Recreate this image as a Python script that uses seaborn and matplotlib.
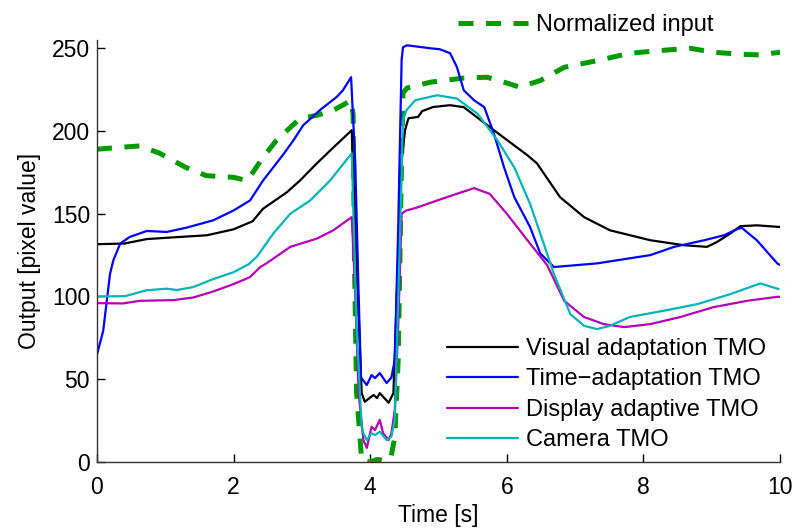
import matplotlib
matplotlib.use("Agg")
import matplotlib.pyplot as plt
import seaborn as sns

# Normalized input (green dashed)
t_input = [0, 0.3, 0.63, 0.92, 1.3, 1.6, 2.0, 2.2, 2.43, 2.63, 2.97, 3.22, 3.46, 3.72, 3.75,
           3.77, 3.80, 3.875, 3.92, 4.0, 4.1, 4.2, 4.3, 4.36, 4.41, 4.45, 4.48, 4.54, 4.88,
           5.37, 5.71, 6.0, 6.19, 6.49, 6.84, 7.32, 7.8, 8.3, 8.68, 9.03, 9.41, 9.7, 10.0]
v_input = [189, 190, 191, 186.5, 178, 173, 172, 170, 184, 194.5, 207.5, 209.5, 212.5, 218.5, 210,
           120, 42, 1, 0.5, 0, 1.5, 1, 2, 15, 62, 162, 223, 226, 229.5,
           232, 232.5, 229, 226.5, 230.5, 238.5, 242.5, 247, 248.8, 250, 247.6, 246.4, 246, 247.6]

# Visual adaptation TMO
t_visual = [0, 0.4, 0.73, 1.22, 1.61, 2.0, 2.28, 2.43, 2.78, 2.97, 3.22, 3.46, 3.73, 3.80,
            3.875, 3.92, 4.05, 4.10, 4.14, 4.27, 4.34, 4.39, 4.46, 4.51, 4.56, 4.7, 4.76, 4.92,
            5.17, 5.37, 5.81, 6.3, 6.44, 6.78, 7.13, 7.51, 8.1, 8.59, 8.93, 9.08, 9.27, 9.42,
            9.66, 10]
v_visual = [131.6, 132, 134.7, 136, 137, 140.6, 145.5, 153, 163, 170, 180.5, 190, 200.5, 122,
            41.6, 36.4, 40.5, 38.6, 41.6, 35.8, 41.6, 102, 182, 200.5, 207.7, 208.5, 212, 214.5,
            215.6, 214.4, 200.5, 185.4, 180.5, 160, 148, 140, 134, 131, 130, 133, 138, 142.5,
            143, 142]

# Time-adaptation TMO
t_time = [0, 0.09, 0.19, 0.24, 0.34, 0.48, 0.73, 1.02, 1.31, 1.7, 2.0, 2.24, 2.43, 2.73, 2.87,
          3.02, 3.26, 3.51, 3.6, 3.72, 3.78, 3.83, 3.865, 3.95, 4.02, 4.07, 4.14, 4.24, 4.31,
          4.36, 4.41, 4.46, 4.48, 4.54, 4.88, 5.02, 5.17, 5.27, 5.37, 5.52, 5.67, 5.81, 5.96,
          6.11, 6.34, 6.49, 6.69, 7.32, 8.1, 8.45, 8.89, 9.18, 9.37, 9.44, 9.66, 9.96, 10]
v_time = [65, 79, 113.5, 122, 132, 136, 139.6, 139, 141.6, 146, 152, 158, 170, 186, 194,
          203.5, 212.5, 220.6, 224.6, 232.5, 182, 102, 51, 46.5, 52.5, 50.7, 53.7, 47.7, 51,
          61.6, 142, 243, 250.6, 251.8, 250, 249.4, 247, 238.6, 224.6, 218.6, 214.4, 198.6, 178,
          160, 142, 126, 117.8, 120, 125, 130, 134, 137, 140.7, 141.5, 134, 120, 119]

# Display adaptive TMO
t_display = [0, 0.38, 0.63, 1.12, 1.41, 1.7, 2.0, 2.24, 2.39, 2.48, 2.83, 3.22, 3.46, 3.73,
             3.78, 3.83, 3.90, 3.95, 4.02, 4.07, 4.14, 4.19, 4.27, 4.31, 4.36, 4.41, 4.46,
             4.53, 4.66, 4.98, 5.12, 5.52, 5.75, 6.0, 6.34, 6.59, 6.84, 7.13, 7.42, 7.72, 8.1,
             8.54, 9.03, 9.52, 9.96, 10]
v_display = [96, 95.8, 97.4, 97.8, 99.4, 103, 107.5, 111.7, 117.8, 120, 130, 135, 140, 148,
             102, 41.6, 13.3, 8.5, 21.3, 19.3, 25.4, 17.3, 13.3, 17.3, 31.4, 81.7, 150,
             152, 153.4, 158, 160, 165.5, 162, 150, 132, 119, 97.4, 87.6, 83.3, 81.5, 83.3,
             87.6, 93.6, 97.4, 99.8, 99.8]

# Camera TMO
t_camera = [0, 0.41, 0.73, 1.02, 1.17, 1.41, 1.7, 2.0, 2.22, 2.34, 2.58, 2.83, 3.12, 3.41,
            3.73, 3.80, 3.875, 3.90, 3.95, 4.02, 4.07, 4.14, 4.24, 4.31, 4.36, 4.44, 4.48,
            4.53, 4.66, 4.98, 5.27, 5.57, 5.86, 6.11, 6.34, 6.54, 6.69, 6.93, 7.13, 7.32,
            7.51, 7.8, 8.3, 8.79, 9.27, 9.71, 9.98]
v_camera = [100, 100.2, 103.8, 104.7, 103.9, 105.7, 110.5, 114.7, 119.5, 124, 138, 150, 158,
            170, 186.5, 81.5, 21, 17.3, 13.3, 17.3, 16.3, 18.3, 13.3, 15.3, 25.4, 142, 206.5,
            212.5, 218.6, 221.6, 219.6, 210.5, 194.5, 178, 156, 132, 113.5, 89.4, 82.3, 80.3,
            82.3, 87.6, 91.4, 95.4, 101.4, 107.9, 104.5]

GREEN = "#009a00"

sns.set_style("ticks")
plt.rcParams["font.family"] = ["Liberation Sans", "DejaVu Sans"]
plt.rcParams["text.color"] = "black"
plt.rcParams["axes.labelcolor"] = "black"

fig = plt.figure(figsize=(7.97, 5.29), dpi=100)
ax = fig.add_axes([0.1217, 0.1267, 0.857, 0.7977])

input_ax = sns.lineplot(x=t_input, y=v_input, ax=ax, color=GREEN, linewidth=3.6,
                        label="Normalized input", sort=False)
input_ax.lines[-1].set_dashes((3.0, 2.5))
sns.lineplot(x=t_visual, y=v_visual, ax=ax, color="black", linewidth=1.6,
             label="Visual adaptation TMO", sort=False)
sns.lineplot(x=t_time, y=v_time, ax=ax, color="#0000ff", linewidth=1.6,
             label="Time\u2212adaptation TMO", sort=False)
sns.lineplot(x=t_display, y=v_display, ax=ax, color="#b400b4", linewidth=1.6,
             label="Display adaptive TMO", sort=False)
sns.lineplot(x=t_camera, y=v_camera, ax=ax, color="#00b4b4", linewidth=1.6,
             label="Camera TMO", sort=False)

ax.set_xlim(0, 10)
ax.set_ylim(0, 255)
ax.set_xticks([0, 2, 4, 6, 8, 10])
ax.set_yticks([0, 50, 100, 150, 200, 250])
ax.tick_params(direction="in", length=6, width=1, labelsize=16.5, colors="black")
ax.tick_params(axis="x", pad=10)
ax.tick_params(axis="y", pad=5)
for side in ("left", "bottom"):
    ax.spines[side].set_color("#333333")
    ax.spines[side].set_linewidth(1)
sns.despine(ax=ax)
ax.set_xlabel("Time [s]", fontsize=16.5, labelpad=4)
ax.set_ylabel("Output [pixel value]", fontsize=16.5, labelpad=8)

handles, labels = ax.get_legend_handles_labels()
top_leg = ax.legend(handles[:1], labels[:1], loc="center left", bbox_to_anchor=(0.528, 1.036),
                    frameon=False, fontsize=17, handlelength=3.0, handletextpad=0.3,
                    borderaxespad=0, borderpad=0)
ax.add_artist(top_leg)
ax.legend(handles[1:], labels[1:], loc="lower left", bbox_to_anchor=(0.512, 0.025),
          frameon=False, fontsize=17, handlelength=3.0, handletextpad=0.35,
          labelspacing=0.36, borderaxespad=0, borderpad=0)

fig.savefig("out.png", dpi=100)
